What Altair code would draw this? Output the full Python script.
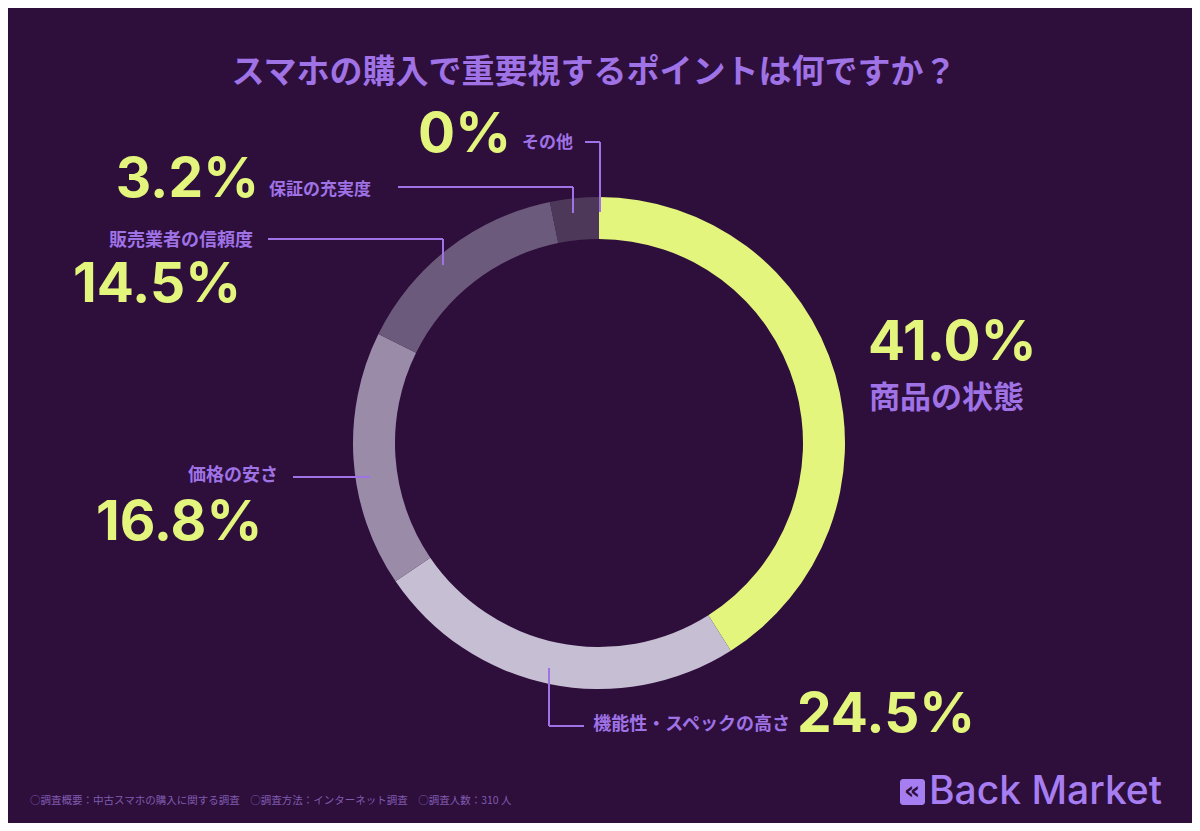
import altair as alt
import pandas as pd

# ---- data ----
categories = ["商品の状態", "機能性・スペックの高さ", "価格の安さ", "販売業者の信頼度", "保証の充実度", "その他"]
values = [41.0, 24.5, 16.8, 14.5, 3.2, 0.0]
colors = ["#e3f57c", "#c6bed2", "#9a8ca9", "#6c5a7c", "#4d3859", "#3f2a4c"]
title_text = "スマホの購入で重要視するポイントは何ですか？"
footer_text = "○調査概要：中古スマホの購入に関する調査　○調査方法：インターネット調査　○調査人数：310 人"
brand_text = "Back Market"

BG = "#2e0e3b"
LIME = "#e3f57c"
PURPLE = "#9f72e6"
JP = "Noto Sans CJK JP"
NUM = "Inter"

df = pd.DataFrame({"category": categories, "value": values, "idx": list(range(len(categories)))})

O = 8  # page margin offset


def P(v):
    return v - O


base = alt.Chart(df)

donut = base.mark_arc(innerRadius=204, outerRadius=246).encode(
    theta=alt.Theta("value:Q", stack=True),
    order=alt.Order("idx:Q"),
    color=alt.Color("category:N", scale=alt.Scale(domain=categories, range=colors), legend=None),
    x=alt.value(P(599)),
    y=alt.value(P(443)),
)

one = alt.Chart(pd.DataFrame({"k": [0]}))


def txt(s, x, y, size, color, align="left", font=JP, weight="bold"):
    return one.mark_text(
        text=s, align=align, baseline="middle", fontSize=size, font=font,
        fontWeight=weight, color=color
    ).encode(x=alt.value(P(x)), y=alt.value(P(y)))


def seg(x1, y1, x2, y2):
    return one.mark_rule(color=PURPLE, strokeWidth=2).encode(
        x=alt.value(P(x1)), x2=alt.value(P(x2)), y=alt.value(P(y1)), y2=alt.value(P(y2))
    )


def pct(v):
    return "0%" if v == 0 else f"{v:.1f}%"


# label layout: category -> (pct x, pct y, pct align, name x, name y, name align, name size)
layout = {
    "商品の状態": (868, 343, "left", 869, 399, "left", 31),
    "機能性・スペックの高さ": (797, 715, "left", 790, 725, "right", 18),
    "価格の安さ": (96, 523, "left", 278, 476, "right", 18),
    "販売業者の信頼度": (73, 285, "left", 253, 241, "right", 18),
    "保証の充実度": (259, 180, "right", 269, 190, "left", 17),
    "その他": (511, 135, "right", 522, 143, "left", 17),
}

layers = [donut]
for c, v in zip(categories, values):
    px, py, pa, nx, ny, na, ns = layout[c]
    layers.append(txt(pct(v), px, py, 55, LIME, align=pa, font=NUM, weight="bold"))
    layers.append(txt(c, nx, ny, ns, PURPLE, align=na))

# leader lines
layers += [
    seg(585, 142, 600, 142), seg(600, 142, 600, 212),
    seg(398, 187, 573, 187), seg(573, 187, 573, 213),
    seg(268, 239, 443, 239), seg(443, 239, 443, 265),
    seg(293, 477, 370, 477),
    seg(549, 668, 549, 726), seg(549, 726, 584, 726),
]

# title, footer, brand
layers.append(txt(title_text, 594, 73, 33, PURPLE, align="center"))
layers.append(txt(footer_text, 30, 801, 10.5, "#7f5cae", align="left", weight="normal"))
layers.append(
    one.mark_rect(color="#a67ef2", cornerRadius=3).encode(
        x=alt.value(P(900)), x2=alt.value(P(925)), y=alt.value(P(779)), y2=alt.value(P(805))
    )
)
layers.append(txt("«", 912, 791, 25, BG, align="center", font="DejaVu Sans"))
layers.append(txt(brand_text, 929, 792, 39, "#a67ef2", align="left", font="Inter", weight=500))

chart = alt.layer(*layers).properties(
    width=1184, height=815, background=BG,
    autosize=alt.AutoSizeParams(type="fit", contains="padding"), padding=0,
).configure_view(strokeWidth=0)

chart.save("out.html", embed_options={"renderer": "svg", "actions": False})
